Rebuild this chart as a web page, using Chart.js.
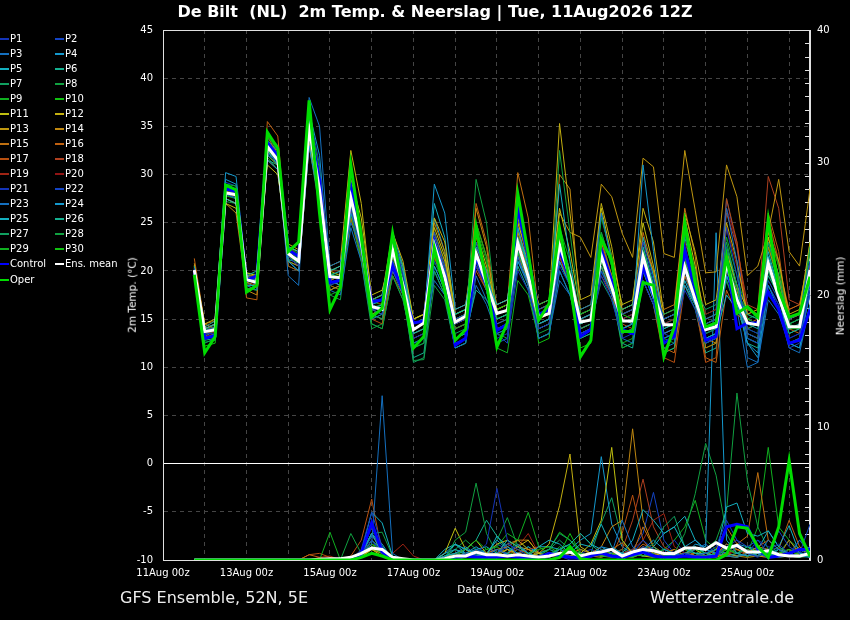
<!DOCTYPE html>
<html lang="nl">
<head>
<meta charset="UTF-8">
<title>De Bilt (NL) 2m Temp. &amp; Neerslag</title>
<script src="https://cdn.jsdelivr.net/npm/chart.js"></script>
<style>
  body { margin: 0; background: #000; font-family: 'DejaVu Sans', sans-serif; color: #fff; }
  #wrap { position: relative; width: 850px; height: 620px; overflow: hidden; }
  #chart { position: absolute; left: 0; top: 0; }
  .txt { position: absolute; white-space: pre; line-height: 1; }
  #title { left: 0; width: 870px; top: 4px; text-align: center; font-weight: bold; font-size: 16px; }
  .rot { transform: translate(-50%, -50%) rotate(-90deg); font-size: 10.5px; }
  #xtitle { left: 486px; top: 589px; transform: translate(-50%, -50%); font-size: 10.5px; }
  .foot { top: 590px; font-size: 16px; color: #eee; }
  .leg { position: absolute; font-size: 10px; line-height: 1; white-space: pre; }
  .leg i { position: absolute; left: -10px; top: 4px; width: 9px; height: 2px; }
</style>
</head>
<body>
<div id="wrap">
  <canvas id="chart" width="850" height="620"></canvas>
  <div class="txt" id="title">De Bilt  (NL)  2m Temp. &amp; Neerslag | Tue, 11Aug2026 12Z</div>
  <div class="txt rot" style="left:132px; top:295px;">2m Temp. (°C)</div>
  <div class="txt rot" style="left:840px; top:296px;">Neerslag (mm)</div>
  <div class="txt" id="xtitle">Date (UTC)</div>
  <div class="txt foot" style="left:120px;">GFS Ensemble, 52N, 5E</div>
  <div class="txt foot" style="left:650px;">Wetterzentrale.de</div>
  <div id="legend"></div>
</div>

<script>
// time axis: 6-hourly steps from 11Aug 18z, axis in hours since 11Aug 00z
const startHour = 18;
const stepHours = 6;
const dateLabels = ['11Aug 00z', '13Aug 00z', '15Aug 00z', '17Aug 00z', '19Aug 00z', '21Aug 00z', '23Aug 00z', '25Aug 00z'];

const memberColors = ['#1434b8', '#1444c4', '#1470c0', '#1498cc', '#14b0c0', '#14b090', '#10a060', '#10a040', '#10b020', '#10c010',
                      '#c0c010', '#c4b010', '#c09810', '#c08810', '#c07010', '#c06010', '#b85010', '#b04020', '#a02414', '#901414'];

// 2m temperature per member (P1..P30)
const memberTemp = [
  [20.0, 13.5,14.0,28.5,28.0, 19.0,19.5,33.5,32.0, 22.0,21.0,35.5,30.0, 18.5,19.0,29.0,24.0, 16.5,16.0,24.0,19.5, 13.0,13.5,21.0,19.0, 14.5,15.0,20.5,18.5, 12.5,13.0,20.0,18.0, 14.0,14.5,20.5,18.5, 13.5,14.0,19.5,17.0, 13.0,13.5,19.0,16.5, 13.5,13.0,18.0,16.0, 12.5,13.0,21.0,17.5, 14.0,13.5,17.5,16.0, 13.0,13.5,18.0],
  [20.3, 13.8,14.2,28.0,27.5, 19.2,19.0,33.0,31.0, 21.5,20.5,34.0,29.0, 19.5,19.0,26.5,22.0, 16.0,15.5,21.0,18.0, 14.5,15.0,24.0,20.5, 15.0,15.5,23.0,19.5, 14.0,14.5,26.0,21.0, 16.0,16.5,22.0,19.0, 13.5,14.0,20.0,17.5, 15.5,16.0,23.0,19.0, 15.0,15.5,22.0,18.0, 14.5,15.0,24.5,19.5, 13.5,13.0,19.0,17.0, 15.0,15.5,21.0],
  [20.0, 13.2,13.0,29.0,28.5, 18.5,18.0,32.0,31.5, 19.5,18.5,38.0,35.0, 20.5,21.0,25.0,22.5, 15.0,15.5,20.0,17.5, 12.5,13.0,19.0,17.5, 12.0,12.5,19.5,17.0, 14.5,15.0,21.5,18.5, 13.0,13.5,20.0,17.5, 16.0,16.5,26.0,21.0, 13.0,12.5,19.0,16.5, 12.0,12.5,21.5,18.0, 15.0,15.5,26.5,21.0, 11.0,10.5,17.0,15.5, 12.5,13.0,17.5],
  [20.2, 14.0,14.5,30.2,29.8, 19.5,19.0,31.5,30.5, 21.0,20.0,33.0,27.0, 19.0,18.5,26.0,23.0, 16.5,17.0,23.5,20.0, 14.0,14.5,29.0,26.0, 16.0,16.5,22.5,20.0, 15.5,16.0,21.0,19.0, 14.5,15.0,21.0,18.5, 15.0,15.5,21.5,19.0, 14.0,14.5,31.0,22.0, 13.5,14.0,18.5,16.5, 13.0,13.5,19.5,17.0, 12.5,11.0,18.5,16.0, 12.5,12.0,16.5],
  [19.8, 13.0,13.5,27.5,27.0, 18.5,18.5,32.5,31.0, 22.5,22.0,35.0,29.5, 20.0,20.5,28.5,23.5, 16.0,16.5,22.5,19.0, 13.5,14.0,20.5,18.0, 15.5,16.0,22.0,19.0, 16.5,17.0,24.5,20.5, 15.5,16.0,29.0,21.0, 14.5,15.0,22.0,18.5, 15.0,14.5,20.0,17.0, 14.0,14.5,19.0,16.5, 13.0,13.5,17.5,16.0, 14.5,14.0,22.0,18.0, 14.0,14.5,21.0],
  [20.5, 14.2,14.8,28.5,28.5, 19.5,20.0,33.0,32.0, 22.0,21.5,35.5,28.0, 19.5,20.0,27.0,22.0, 17.0,17.5,23.0,20.5, 14.5,15.0,23.5,20.0, 13.0,13.5,18.0,17.0, 15.0,15.5,23.5,20.5, 14.0,14.5,23.0,19.5, 13.5,14.0,20.5,17.5, 16.0,16.5,22.5,18.5, 15.0,15.5,23.5,19.0, 14.0,14.5,20.0,17.5, 15.5,15.0,19.5,17.5, 13.5,14.0,19.0],
  [19.6, 12.5,13.0,28.0,27.5, 18.0,18.5,32.0,31.0, 21.0,21.5,34.0,27.5, 18.5,19.0,27.5,22.5, 15.5,15.0,21.0,18.0, 10.5,11.0,20.0,17.5, 13.5,14.0,21.5,18.0, 15.0,15.5,22.0,19.0, 16.5,17.0,24.0,20.0, 14.0,14.5,19.0,17.0, 13.5,14.0,20.5,17.0, 15.5,16.0,21.5,18.0, 16.0,16.5,23.0,18.5, 13.5,13.0,23.0,19.5, 14.5,15.0,22.5],
  [20.0, 13.6,14.0,28.2,28.0, 19.0,19.0,33.2,31.8, 22.2,21.2,34.5,28.5, 19.2,19.5,27.8,23.2, 16.2,16.5,23.5,19.5, 13.5,14.0,23.0,20.0, 14.0,14.5,29.5,25.0, 15.0,15.5,23.0,19.5, 14.5,15.0,32.5,24.0, 15.5,16.0,24.0,20.5, 14.0,14.5,22.0,18.0, 13.0,12.5,21.0,17.5, 13.5,14.0,19.0,16.0, 14.0,14.5,20.0,17.0, 14.5,15.0,20.0],
  [20.2, 13.0,13.2,29.0,28.8, 18.2,18.0,34.0,32.5, 21.5,20.8,36.0,30.5, 17.5,18.0,26.0,21.5, 14.5,14.0,19.5,17.0, 12.0,12.5,22.0,19.0, 15.0,15.5,25.0,21.5, 12.0,11.5,19.0,17.5, 13.0,13.5,21.0,18.5, 14.5,15.0,25.5,21.5, 12.5,13.0,20.5,18.0, 12.5,13.0,24.0,20.0, 13.0,13.5,21.5,17.5, 16.0,15.5,24.5,20.5, 14.0,14.5,22.0],
  [19.9, 13.9,14.1,27.8,27.5, 19.3,18.8,32.6,31.2, 21.8,21.1,34.2,28.0, 19.6,19.4,27.0,22.6, 16.4,16.2,21.5,18.5, 14.5,15.0,21.0,18.5, 15.5,16.0,21.0,18.5, 16.0,16.5,22.0,19.5, 15.5,16.0,22.0,19.0, 15.5,16.0,21.0,18.0, 15.5,15.0,21.5,18.5, 14.0,14.5,22.5,18.5, 14.5,15.0,21.5,17.5, 15.0,14.5,20.5,17.0, 14.0,14.0,20.0],
  [20.4, 14.5,15.0,27.0,26.5, 19.8,19.5,31.0,30.0, 22.5,22.0,33.5,27.5, 20.0,20.5,29.5,25.5, 17.5,18.0,22.0,20.0, 15.0,15.5,24.5,21.5, 16.0,16.5,24.0,20.5, 16.0,16.5,25.0,21.5, 16.5,17.0,26.5,22.0, 16.0,16.5,26.5,21.5, 16.5,17.0,25.0,20.5, 15.0,15.5,25.5,20.5, 14.5,15.0,22.0,18.5, 16.0,15.5,23.5,19.5, 15.0,15.5,22.5],
  [20.6, 14.0,14.5,27.5,27.0, 18.8,19.2,32.0,31.0, 22.8,22.2,34.0,30.0, 20.5,21.0,32.5,27.0, 17.0,17.5,24.0,21.0, 15.0,15.5,25.5,23.0, 15.5,16.0,23.0,20.0, 15.5,16.0,25.5,22.0, 16.0,16.5,35.3,26.0, 17.0,17.5,27.0,22.5, 16.0,16.5,26.5,23.0, 15.5,16.0,26.0,22.0, 16.5,17.0,25.0,21.0, 15.5,16.0,24.0,21.0, 15.5,16.0,23.0],
  [20.5, 14.0,14.5,28.0,27.5, 19.5,19.5,33.0,32.5, 22.5,22.0,34.0,28.5, 20.0,19.5,28.0,24.0, 17.0,17.5,23.0,20.5, 15.0,15.5,24.0,21.0, 15.5,16.0,25.0,21.5, 16.5,17.0,24.0,21.0, 16.5,17.0,26.0,24.0, 23.5,21.4,29.0,27.7, 23.9,21.4,31.7,30.8, 21.8,21.4,32.5,26.3, 19.8,19.9,31.0,27.7, 19.5,20.5,24.0,29.5, 22.0,20.5,28.5],
  [20.8, 14.5,14.0,27.0,26.0, 18.0,17.5,32.5,31.5, 21.0,20.5,33.5,27.0, 18.0,18.5,27.5,23.0, 15.5,16.0,22.5,19.0, 14.0,14.5,25.0,22.0, 14.5,15.0,26.5,22.5, 15.0,15.5,22.0,18.5, 14.5,15.0,30.0,28.5, 15.5,16.0,22.5,19.5, 16.0,16.5,23.0,20.0, 15.0,15.5,21.0,18.5, 13.0,12.5,20.5,18.0, 13.5,13.0,22.5,19.0, 15.0,15.5,21.0],
  [20.1, 13.8,14.2,28.2,27.8, 18.8,18.5,34.0,32.0, 21.5,21.0,35.0,29.0, 19.0,19.5,28.0,23.5, 16.0,15.5,22.0,18.5, 14.0,14.5,23.5,20.5, 15.0,15.5,23.5,20.0, 16.0,16.5,30.2,25.5, 15.5,16.0,21.0,18.5, 14.0,14.5,23.0,19.5, 15.5,16.0,24.0,20.0, 16.0,16.5,26.5,21.5, 12.0,12.5,20.0,17.0, 14.0,14.5,23.5,19.5, 16.0,16.5,22.0],
  [21.3, 14.5,14.8,28.5,28.0, 17.2,17.0,35.5,34.0, 21.5,21.0,33.5,27.5, 19.0,18.5,25.5,21.5, 15.5,15.0,20.0,18.0, 13.5,14.0,21.5,18.5, 14.0,14.5,27.0,23.0, 16.0,16.5,23.5,20.0, 14.0,14.5,22.0,19.0, 14.5,15.0,20.5,17.5, 15.0,14.5,21.0,17.5, 12.0,11.5,19.5,17.0, 11.0,10.5,18.0,15.5, 14.5,15.0,26.0,22.0, 14.0,13.5,20.5],
  [20.3, 14.2,14.0,27.5,27.0, 18.5,18.0,31.5,30.5, 20.5,20.0,33.0,27.0, 18.5,18.0,26.5,22.0, 15.0,14.5,19.5,17.5, 13.0,13.5,22.0,19.5, 14.5,15.0,20.0,18.0, 14.5,15.0,25.0,21.0, 15.0,15.5,21.5,18.5, 15.0,15.5,19.5,17.5, 14.5,14.0,19.0,16.5, 11.0,10.5,18.5,16.5, 10.5,11.0,27.5,23.0, 15.0,14.5,25.5,21.0, 15.0,15.5,22.5],
  [19.9, 13.5,13.8,28.0,27.8, 19.0,18.8,32.8,31.0, 21.5,20.5,34.0,28.0, 19.5,19.0,26.5,22.0, 16.5,16.0,21.5,18.5, 13.5,14.0,22.5,19.0, 14.0,14.5,21.0,18.5, 16.5,17.0,22.5,19.5, 15.5,16.0,23.5,20.0, 15.5,16.0,23.0,19.5, 14.0,14.5,20.0,17.5, 14.0,14.5,22.0,19.0, 15.0,15.5,26.0,22.5, 16.5,16.0,29.8,26.5, 17.0,16.5,22.0],
  [20.0, 13.8,13.6,28.3,28.0, 19.4,19.2,32.0,31.0, 22.0,21.5,34.5,27.5, 20.0,20.0,26.0,22.5, 17.0,16.5,21.0,18.5, 14.0,14.5,22.0,19.0, 15.0,15.5,20.5,18.0, 15.5,16.0,21.5,19.0, 15.0,15.5,21.5,18.5, 15.5,16.0,20.5,18.0, 15.0,15.5,20.5,18.0, 14.5,15.0,21.5,18.5, 14.0,14.5,24.5,20.5, 16.0,15.5,24.0,20.5, 16.0,16.5,20.5],
  [20.2, 13.2,13.5,28.5,28.2, 18.5,19.0,33.0,32.0, 22.5,21.5,34.5,28.5, 18.5,19.0,27.0,23.0, 16.0,16.5,22.0,19.0, 14.0,14.5,21.5,18.5, 15.5,16.0,22.5,19.5, 14.0,14.5,24.0,21.0, 16.0,16.5,23.0,19.5, 14.5,15.0,22.5,19.0, 13.5,14.0,21.0,18.0, 13.5,14.0,23.0,19.5, 15.5,16.0,26.5,23.0, 15.5,16.0,25.5,21.0, 15.0,15.5,21.0],
  [20.0, 13.4,13.6,28.8,28.5, 19.6,19.2,33.8,32.5, 22.2,21.5,35.2,29.0, 19.0,18.5,27.0,22.0, 16.0,16.0,21.5,18.0, 13.0,13.5,21.5,18.5, 14.0,14.5,20.5,18.0, 13.0,13.5,21.5,18.5, 14.0,14.5,21.0,18.5, 14.5,15.0,22.0,18.5, 14.0,14.5,21.5,17.5, 13.5,14.0,20.0,17.0, 13.5,14.0,21.5,17.5, 13.0,12.5,18.5,16.5, 13.0,13.5,17.5],
  [20.1, 13.6,13.4,29.2,28.8, 19.2,18.5,34.0,33.0, 22.0,21.0,36.5,31.0, 19.0,18.5,26.5,22.0, 16.0,15.5,22.0,18.5, 12.5,13.0,20.5,18.0, 13.0,13.5,21.0,18.0, 13.5,12.5,22.5,19.0, 14.5,15.0,22.5,19.0, 14.0,14.5,22.0,18.5, 15.0,15.5,21.0,18.0, 14.5,15.0,20.0,17.5, 14.0,14.5,27.5,22.5, 14.0,14.5,18.5,16.5, 12.0,12.5,18.5],
  [19.8, 13.0,13.2,28.0,27.5, 18.8,19.0,32.2,31.5, 21.2,20.8,35.5,29.5, 18.0,17.5,24.5,21.0, 14.5,14.0,19.5,17.0, 12.0,12.5,23.5,20.0, 12.5,13.0,18.5,16.5, 13.5,14.0,22.0,18.5, 13.0,13.5,19.0,17.5, 14.0,14.5,21.0,18.0, 13.5,14.0,20.5,17.5, 13.0,13.5,19.5,16.5, 14.5,15.0,19.0,16.0, 10.0,10.5,18.0,16.0, 12.0,11.5,16.5],
  [20.0, 13.5,14.0,29.5,29.0, 19.0,19.5,33.5,32.5, 21.0,20.0,36.5,32.0, 19.5,20.0,26.5,22.5, 16.5,17.0,24.0,20.5, 14.0,14.5,25.5,22.0, 14.5,15.0,22.0,19.0, 14.0,14.5,21.0,18.5, 14.5,15.0,21.5,19.0, 15.0,15.5,26.0,21.0, 15.0,15.5,23.5,19.5, 13.5,14.0,24.0,19.5, 12.5,13.0,21.0,17.5, 12.5,11.5,20.0,17.5, 12.5,12.0,18.0],
  [20.1, 13.2,13.8,28.5,28.2, 18.8,18.2,32.5,31.5, 22.0,21.5,34.5,28.0, 19.0,19.5,28.0,23.5, 15.5,16.0,23.0,19.5, 14.5,15.0,27.0,23.5, 15.0,15.5,22.5,19.5, 15.0,15.5,24.5,20.0, 14.5,15.0,23.0,19.5, 13.5,14.0,20.0,17.5, 14.0,14.5,21.5,18.0, 13.0,13.5,19.5,17.0, 13.5,14.0,19.5,17.0, 13.0,12.5,21.5,18.0, 13.5,14.0,19.5],
  [19.7, 12.8,13.0,27.5,27.0, 18.0,18.5,31.5,31.0, 21.0,20.5,33.5,27.0, 18.0,18.5,26.0,21.5, 15.5,15.0,21.0,18.0, 11.0,11.5,20.0,17.5, 12.0,12.5,20.5,18.0, 13.5,14.0,20.5,18.0, 13.0,13.5,20.0,17.5, 13.0,13.5,20.5,17.5, 12.5,12.0,19.0,16.5, 11.5,12.0,18.5,16.0, 11.5,12.0,19.5,16.5, 12.5,12.0,21.0,17.5, 12.5,13.0,19.0],
  [20.0, 13.9,14.4,28.0,27.6, 19.8,19.6,32.8,31.6, 22.4,21.6,34.6,28.6, 20.2,20.0,28.6,24.0, 17.0,17.0,23.0,20.0, 15.0,15.5,23.0,20.0, 15.5,16.0,22.0,19.0, 16.5,17.0,24.0,20.5, 14.5,15.0,22.0,19.0, 15.0,15.5,23.5,19.5, 15.5,16.0,22.0,18.5, 15.0,15.5,21.0,18.0, 15.5,16.0,22.5,18.5, 15.0,15.5,23.0,19.0, 15.0,15.5,20.5],
  [19.6, 12.6,12.8,27.2,27.0, 18.2,18.0,31.8,30.5, 20.5,20.0,33.0,26.5, 17.5,17.0,25.5,21.0, 14.0,14.5,21.0,17.5, 10.7,10.8,18.5,17.0, 12.0,12.5,21.0,18.5, 13.5,13.0,21.5,18.5, 13.5,14.0,22.0,18.5, 13.0,13.5,21.5,18.0, 12.0,12.5,20.0,17.0, 12.5,13.0,21.0,17.5, 12.5,13.0,22.0,18.0, 14.0,13.5,23.0,19.0, 14.5,14.0,20.5],
  [20.3, 13.4,13.8,28.7,28.4, 19.4,19.0,33.6,32.2, 22.4,21.8,35.6,29.0, 19.8,19.6,29.0,24.5, 16.8,16.5,24.0,20.5, 14.5,15.0,24.0,21.0, 15.0,15.5,24.5,21.0, 16.0,16.5,25.5,21.5, 16.0,16.5,24.5,21.0, 15.0,15.5,24.0,20.5, 15.5,16.0,23.5,19.5, 14.5,15.0,24.5,20.0, 15.0,15.5,23.5,19.5, 15.5,15.0,24.5,20.5, 14.5,15.0,23.0],
  [19.8, 12.2,12.5,28.4,28.0, 18.6,18.4,34.2,33.0, 21.6,21.0,36.8,29.5, 18.5,18.0,28.5,23.0, 15.0,15.5,23.5,19.5, 12.5,13.0,21.5,18.5, 13.0,13.5,23.0,19.5, 12.5,13.0,24.0,20.0, 12.5,13.0,23.5,20.0, 12.0,12.5,22.5,19.0, 12.0,12.5,22.5,18.5, 11.5,12.0,22.0,18.0, 12.0,12.5,22.5,18.5, 13.0,12.5,22.5,18.5, 12.5,13.0,21.0]
];

// 6-hourly precipitation per member (P1..P30), mm
const memberRain = [
  [0, 0,0,0,0, 0,0,0,0, 0,0,0,0, 0,0,0,0.4, 1.5,0.5,0,0, 0,0,0,0.2, 0,0.3,0.5,1.2, 5.4,1.5,0.3,0, 0.2,0.5,0.3,0, 0,0.2,0.8,0.3, 0,0.5,1.0,0.4, 0,0.3,0.5,0.2, 0,0.3,1.0,1.5, 0.5,0.2,0.8,1.2, 0.5,0.3,0.8],
  [0, 0,0,0,0, 0,0,0,0, 0,0,0,0, 0,0,0,0.8, 3.6,1.0,0,0, 0,0,0,0, 0.2,0.5,0.3,0, 0.5,1.2,0.8,0.3, 0,0.2,0.5,0.3, 0,0.4,0.5,0.2, 0.3,0.5,1.5,0.8, 0.2,0,0.5,0.3, 0.5,1.0,3.0,1.5, 1.0,1.5,0.5,2.2, 1.0,0.5,2.7],
  [0, 0,0,0,0, 0,0,0,0, 0,0,0,0, 0,0,0,0.3, 1.2,12.4,0.5,0, 0,0,0,0, 0,0.2,0.5,0.3, 0.8,0.4,0.2,0, 0.3,0.2,0.8,0.5, 0.2,0.3,1.0,0.5, 3.0,1.0,0.5,0.3, 0.2,0.4,0.3,0.8, 1.2,0.5,0.3,0.2, 0.5,0.3,1.5,0.8, 0.3,1.5,0.5],
  [0, 0,0,0,0, 0,0,0,0, 0,0,0,0, 0,0,0,0.5, 2.0,0.5,0,0, 0,0,0,0.3, 0.5,1.0,0.4,0.2, 0.3,0.5,1.2,0.5, 0.2,0.5,0.3,0.2, 0.4,0.3,1.0,0.8, 0.5,0.3,0.8,1.5, 0.8,0.5,0.3,1.2, 1.0,24.7,1.5,0.5, 0.3,0.5,0.2,0.8, 0.5,0.3,0.2],
  [0, 0,0,0,0, 0,0,0,0, 0,0,0,0, 0,0,0,0.6, 3.6,2.8,0.3,0, 0,0,0,0.5, 1.2,0.8,0.5,0.3, 1.8,1.0,0.5,0.3, 1.0,1.5,1.2,0.5, 1.2,1.0,2.7,1.0, 0.5,1.5,3.8,3.0, 2.0,2.5,1.0,0.5, 0.5,0.3,4.0,4.3, 2.0,1.8,2.2,1.0, 2.6,0.5,0.5],
  [0, 0,0,0,0, 0,0,0,0, 0,0,0,0, 0,0,0,0.4, 2.0,1.0,0.2,0, 0,0,0,0.2, 0.8,0.4,0.3,0.2, 0.5,1.5,1.0,0.5, 0.2,0.4,0.8,1.2, 2.0,1.2,0.5,0.3, 0.5,0.3,0.5,1.0, 0.4,0.3,0.5,1.0, 0.5,0.8,0.3,0.5, 1.0,0.5,0.3,0.2, 0.3,0.2,0.5],
  [0, 0,0,0,0, 0,0,0,0, 0,0,0,0, 0,0,0,0.2, 1.5,0.8,0,0, 0,0,0,0, 0.5,0.8,0.5,0.3, 0.3,0.5,0.2,0, 0.3,0.8,1.5,0.8, 0.5,0.3,0.5,0.8, 0.3,0.5,0.8,1.2, 2.5,3.3,1.0,0.5, 0.3,0.5,1.0,0.5, 0.8,0.3,0.5,1.0, 0.5,0.3,0.3],
  [0, 0,0,0,0, 0,0,0,0, 0,0,0,0, 0,0,2.0,0.5, 2.0,2.1,0.3,0, 0,0,0,0, 1.5,2.1,5.8,2.0, 0.5,0.3,0.2,0, 0.2,0.3,0.5,0.2, 0.3,0.5,0.3,0.4, 0.2,0.5,0.3,0.5, 0.8,0.5,2.0,5.0, 8.8,6.4,2.0,0.5, 0.3,0.8,0.5,0.3, 0.5,0.2,0.3],
  [0, 0,0,0,0, 0,0,0,0, 0,0,0,0, 2.1,0,0,0.3, 1.0,0.5,0,0, 0,0,0,0.3, 0.5,0.8,1.5,0.8, 1.0,2.0,1.5,3.6, 1.0,0.5,0.8,0.5, 0.3,0.5,0.3,0.2, 0.5,0.3,0.5,0.2, 0.3,0.5,0.8,0.5, 0.3,0.5,0.8,0.5, 0.3,0.5,0.3,0.8, 0.3,0.5,0.2],
  [0, 0,0,0,0, 0,0,0,0, 0,0,0,0, 0,0,0,0.3, 1.2,0.8,0.1,0, 0,0,0,0, 0.3,0.5,0.3,0.2, 0.5,0.3,0.2,0.5, 0.8,1.0,0.5,2.0, 0.5,0.3,0.8,0.5, 0.3,0.2,0.5,0.3, 0.2,0.5,0.3,0.8, 0.5,0.3,0.8,0.5, 1.0,0.5,0.3,0.5, 0.8,0.3,0.5],
  [0, 0,0,0,0, 0,0,0,0, 0,0,0,0, 0,0,0,0.2, 0.8,0.3,0,0, 0,0,0,0.5, 2.4,0.8,1.5,0.5, 0.3,0.8,0.5,0.3, 0.5,0.3,0.5,0.3, 0.5,1.2,3.0,8.5, 1.5,0.5,0.3,0.2, 0.5,0.3,0.5,0.8, 0.3,0.5,0.3,0.2, 0.5,0.8,0.5,0.3, 0.5,0.3,0.5],
  [0, 0,0,0,0, 0,0,0,0, 0,0,0,0, 0,0,0,0.3, 0.8,0.5,0,0, 0,0,0,0.2, 0.5,0.8,0.3,0.5, 1.2,1.5,1.0,1.5, 0.5,1.2,4.1,8.0, 1.0,0.5,0.3,0.5, 0.3,0.5,1.0,0.5, 0.3,0.2,0.5,0.3, 0.2,0.5,0.8,0.5, 0.3,0.5,0.2,0.5, 0.3,0.5,0.2],
  [0, 0,0,0,0, 0,0,0,0, 0,0,0,0, 0,0,0,0.2, 0.5,0.3,0,0, 0,0,0,0, 0.2,0.3,0.5,0.2, 0.3,0.5,1.0,0.8, 0.3,0.2,0.5,0.3, 0.2,0.3,0.2,0.5, 0.3,0.2,0.5,0.3, 0.2,0.3,0.5,0.2, 0.3,0.2,0.5,0.3, 0.2,0.3,0.2,0.5, 0.3,0.2,0.5],
  [0, 0,0,0,0, 0,0,0,0, 0,0,0,0, 0,0,0,0.4, 1.5,0.8,0,0, 0,0,0,0.3, 0.5,0.8,0.5,0.3, 0.5,1.2,1.5,0.8, 0.5,0.3,0.8,0.5, 0.8,0.5,1.0,2.5, 3.0,9.9,3.0,1.0, 0.5,0.8,0.3,0.5, 0.3,0.5,1.0,0.8, 0.5,1.0,0.8,0.3, 1.5,0.5,0.3],
  [0, 0,0,0,0, 0,0,0,0, 0,0,0,0, 0,0,0,0.5, 2.0,0.5,0,0, 0,0,0,0, 0.3,0.5,0.3,0.5, 0.8,1.0,1.5,1.5, 0.5,0.3,0.5,0.5, 0.3,0.5,0.3,0.8, 1.3,0.5,2.5,1.0, 0.5,0.8,0.3,0.5, 0.3,0.8,2.5,1.2, 1.8,6.6,1.5,0.8, 0.5,1.0,0.3],
  [0, 0,0,0,0, 0,0,0,0, 0,0,0.4,0.2, 0,0,0,0.3, 1.0,0.5,0,0, 0,0,0,0, 0.2,0.5,0.3,0.2, 0.5,0.8,0.3,0.5, 0.3,0.5,0.2,0.3, 0.5,0.3,0.8,0.5, 0.3,0.5,1.2,0.8, 0.5,0.3,0.5,0.8, 0.3,0.5,1.2,0.8, 0.5,1.0,1.5,0.8, 3.0,1.0,0.5],
  [0, 0,0,0,0, 0,0,0,0, 0,0,0.4,0.5, 0.2,0,0.3,1.5, 4.6,0.5,0,0, 0,0,0,0, 0.2,0.3,0.5,0.2, 0.3,0.5,0.8,0.5, 0.3,0.5,0.3,0.8, 0.5,0.3,0.5,0.3, 2.0,4.9,1.5,0.5, 0.3,0.5,0.8,0.3, 0.5,0.3,0.5,0.8, 0.3,0.5,0.3,0.5, 0.8,0.3,0.5],
  [0, 0,0,0,0, 0,0,0,0, 0,0,0,0, 0,0,0,0.4, 1.2,0.8,0,0, 0,0,0,0, 0.3,0.2,0.5,0.3, 0.5,0.3,0.5,0.8, 1.0,0.5,0.3,0.5, 0.3,0.5,0.3,0.5, 0.8,3.0,6.1,2.5, 1.0,0.5,0.3,0.5, 0.3,0.5,0.3,0.5, 0.8,0.5,0.3,0.5, 0.3,0.5,0.3],
  [0, 0,0,0,0, 0,0,0,0, 0,0,0,0.2, 0.3,0,0,0.3, 0.8,0.3,0.5,1.2, 0.3,0,0,0, 0.2,0.3,0.2,0.5, 0.3,0.5,1.0,2.0, 0.5,0.3,0.2,0.5, 0.3,0.2,0.5,0.3, 0.5,0.8,1.5,3.0, 3.5,1.0,0.5,0.3, 0.2,0.5,0.3,0.8, 0.5,0.3,0.5,0.2, 0.3,0.5,0.2],
  [0, 0,0,0,0, 0,0,0,0, 0,0,0,0, 0,0,0,0.2, 0.5,0.3,0,0, 0,0,0,0, 0.2,0.3,0.2,0.2, 0.3,0.2,0.5,0.3, 0.2,0.3,0.5,0.3, 0.2,0.5,0.3,0.2, 0.3,0.5,0.8,0.5, 0.3,0.2,0.5,0.3, 0.2,0.3,0.5,0.8, 0.5,0.3,0.2,0.5, 0.3,0.2,0.3],
  [0, 0,0,0,0, 0,0,0,0, 0,0,0,0, 0,0,0,0.5, 2.5,0.8,0,0, 0,0,0,0.2, 0.3,0.5,0.5,0.3, 1.2,0.8,0.5,0.3, 0.5,0.3,0.5,0.3, 0.5,0.8,0.5,0.3, 0.5,0.3,1.0,0.8, 0.5,1.5,0.5,0.3, 0.5,0.3,0.8,1.0, 0.5,1.5,1.0,0.8, 0.5,1.5,0.8],
  [0, 0,0,0,0, 0,0,0,0, 0,0,0,0, 0,0,0,0.3, 1.5,0.5,0,0, 0,0,0,0, 0.2,0.5,0.3,0.5, 0.8,0.5,0.3,0.2, 0.5,0.3,0.2,0.5, 0.3,0.5,0.3,0.5, 0.3,0.8,2.0,5.1, 1.5,0.5,0.3,0.2, 0.5,0.3,0.5,0.8, 0.5,0.3,0.8,0.5, 0.3,0.5,1.0],
  [0, 0,0,0,0, 0,0,0,0, 0,0,0,0, 0,0,0,0.4, 1.8,1.0,0,0, 0,0,0,0.3, 0.5,0.3,0.8,0.5, 0.5,1.0,0.5,0.3, 0.3,0.5,0.3,0.2, 0.5,0.3,0.5,0.3, 0.5,0.8,0.5,0.3, 0.5,0.3,0.8,0.5, 0.3,0.8,0.5,0.3, 0.5,0.8,0.5,0.3, 0.5,0.3,0.8],
  [0, 0,0,0,0, 0,0,0,0, 0,0,0,0, 0,0,0,0.3, 1.5,0.5,0,0, 0,0,0,0.5, 0.8,0.5,1.0,0.5, 1.5,0.8,0.5,1.0, 0.5,0.3,0.5,0.8, 1.5,2.0,7.8,2.7, 1.0,0.5,0.8,0.5, 0.3,0.5,1.0,1.5, 0.8,0.5,1.2,0.8, 0.5,0.3,0.5,0.8, 0.3,0.5,0.3],
  [0, 0,0,0,0, 0,0,0,0, 0,0,0,0, 0,0,0,0.5, 2.0,1.2,0,0, 0,0,0,0.8, 1.2,0.5,0.8,1.0, 0.5,1.5,1.0,0.5, 1.0,1.0,0.8,1.2, 2.0,1.2,0.8,0.5, 0.5,0.8,0.5,1.0, 2.0,2.5,3.3,1.5, 0.8,0.5,0.8,1.2, 1.0,0.8,2.2,1.0, 0.5,0.8,0.5],
  [0, 0,0,0,0, 0,0,0,0, 0,0,0,0, 0,0,0,0.3, 1.0,0.8,0,0, 0,0,0,0.2, 1.2,0.8,1.5,3.0, 1.8,0.8,0.5,0.3, 0.5,0.8,0.5,0.3, 0.5,0.3,1.0,0.5, 0.3,0.5,0.3,0.8, 0.5,0.3,0.8,1.0, 0.5,0.8,0.5,0.3, 0.5,0.3,0.8,0.5, 0.3,0.5,0.2],
  [0, 0,0,0,0, 0,0,0,0, 0,0,0,0, 0,0,0,0.2, 0.8,0.5,0,0, 0,0,0,0, 0.3,0.8,0.5,0.3, 0.5,0.8,0.5,1.0, 0.5,0.8,2.0,1.5, 0.8,0.5,2.8,4.7, 1.5,0.5,0.3,0.8, 0.5,0.3,0.5,0.3, 0.5,0.8,0.5,0.3, 0.5,0.3,0.8,0.5, 1.5,0.5,0.3],
  [0, 0,0,0,0, 0,0,0,0, 0,0,0,0, 0,0,0,0.3, 1.0,0.5,0,0, 0,0,0,0.3, 0.8,1.5,0.8,0.5, 1.5,3.2,1.0,0.5, 0.3,0.5,0.8,0.5, 0.3,0.5,0.3,0.5, 0.8,0.5,0.3,0.5, 0.8,0.5,0.3,0.5, 0.8,1.5,3.7,12.6, 6.0,2.5,0.8,0.5, 0.8,0.5,0.3],
  [0, 0,0,0,0, 0,0,0,0, 0,0,0,0, 0,0,0,0.3, 1.5,0.5,0,0, 0,0,0,0.2, 0.5,0.3,0.5,0.8, 1.0,0.5,1.5,0.8, 0.5,0.3,1.0,0.5, 0.5,0.3,0.5,0.8, 0.5,0.8,0.5,0.3, 0.8,1.5,2.5,4.5, 1.5,0.8,0.5,0.8, 0.5,2.5,8.5,2.5, 1.5,0.8,0.5],
  [0, 0,0,0,0, 0,0,0,0, 0,0,0,0, 0,0,0,0.5, 1.2,0.5,0,0, 0,0,0,0, 0.3,0.8,0.5,0.3, 0.5,0.3,0.8,0.5, 0.3,0.8,2.1,1.5, 0.5,0.3,0.5,0.8, 0.5,0.3,0.5,0.8, 0.3,0.5,0.8,0.5, 0.3,0.5,0.8,0.5, 0.3,0.5,0.8,0.5, 0.8,0.3,0.5]
];

const controlTemp = [20.0, 13.0,13.3,28.5,28.3, 19.0,19.5,33.3,32.0, 22.2,21.5,35.0,29.4, 18.8,19.0,28.7,22.9, 16.8,17.0,20.5,18.0, 14.6,14.8,23.0,19.5, 12.3,13.0,21.5,18.5, 13.8,14.5,26.6,21.5, 15.5,16.0,22.2,19.0, 13.2,13.9,22.2,19.0, 13.9,13.5,20.4,17.5, 12.5,13.2,22.2,18.0, 12.8,13.2,21.5,14.0, 14.6,14.6,17.8,16.0, 12.5,12.8,16.0];
const controlRain = [0, 0,0,0,0, 0,0,0,0, 0,0,0,0, 0,0,0,0.5, 2.8,0.6,0.1,0, 0,0,0,0, 0.2,0.3,0.2,0.2, 0.2,0.3,0.2,0.2, 0.2,0.5,0.3,0.2, 0.2,0.3,0.5,0.3, 0.2,0.4,0.6,0.3, 0.2,0.2,0.3,0.2, 0.2,0.3,2.5,2.7, 2.5,0.8,0.2,0.3, 0.5,0.8,0.8];

const meanTemp = [20.1, 13.7,13.9,28.1,27.9, 19.1,18.8,32.9,31.5, 21.8,21.0,34.8,28.4, 19.4,19.3,27.6,22.9, 16.3,16.0,22.2,18.5, 13.9,14.6,22.7,19.4, 14.7,15.3,21.8,18.7, 15.6,15.9,22.9,19.4, 15.2,15.6,22.7,19.4, 14.7,14.9,21.6,18.3, 14.8,14.8,21.5,17.7, 14.4,14.4,20.4,17.0, 13.9,14.2,20.8,17.0, 14.6,14.4,20.8,17.3, 14.2,14.2,20.1];
const meanRain = [0, 0,0,0,0, 0,0,0,0, 0,0,0,0.05, 0.1,0.1,0.2,0.5, 0.9,0.8,0.2,0.1, 0,0,0,0.1, 0.3,0.3,0.6,0.4, 0.4,0.3,0.4,0.3, 0.2,0.3,0.5,0.6, 0.3,0.5,0.6,0.8, 0.3,0.6,0.8,0.7, 0.5,0.5,0.9,0.9, 0.8,1.3,0.9,1.1, 0.6,0.6,0.7,0.4, 0.3,0.3,0.5];

const operTemp = [19.6, 11.5,13.2,28.9,28.4, 17.8,18.5,34.4,32.7, 22.0,23.0,37.7,26.0, 16.0,18.3,31.0,23.5, 15.2,16.1,23.9,18.0, 12.0,13.2,22.4,18.0, 12.8,13.9,24.6,18.7, 12.1,14.6,28.0,21.8, 14.9,16.6,24.4,18.7, 11.1,12.8,23.3,21.1, 13.7,13.7,18.8,18.5, 11.1,14.2,25.0,18.7, 14.2,14.6,21.5,15.6, 16.3,15.2,25.3,18.0, 15.2,15.6,19.4];
const operRain = [0, 0,0,0,0, 0,0,0,0, 0,0,0,0, 0,0,0,0.2, 0.5,0.3,0,0, 0,0,0,0, 0,0,0,0, 0,0,0,0, 0,0,0.2,1.0, 0.1,0,0,0, 0,0,0,0, 0,0,0,0, 0,0,0.4,2.5, 2.4,1.0,0.2,2.5, 7.5,2.0,0.3];

Chart.defaults.font.family = "'DejaVu Sans', sans-serif";
Chart.defaults.color = '#ffffff';

function toPoints(values) {
    return values.map((v, i) => ({ x: startHour + i * stepHours, y: v }));
}

// lower "order" is painted on top
function line(label, values, color, width, axis, order) {
    return { label: label, data: toPoints(values), borderColor: color, borderWidth: width, yAxisID: axis, order: order };
}

const datasets = [];
memberTemp.forEach((vals, k) => datasets.push(line('P' + (k + 1), vals, memberColors[k % 20], 1, 'y', 3)));
memberRain.forEach((vals, k) => datasets.push(line('P' + (k + 1) + ' rr', vals, memberColors[k % 20], 1, 'y2', 3)));
datasets.push(line('Control', controlTemp, '#0000ff', 3, 'y', 2));
datasets.push(line('Control rr', controlRain, '#0000ff', 3, 'y2', 2));
datasets.push(line('Ens. mean', meanTemp, '#ffffff', 3, 'y', 1));
datasets.push(line('Ens. mean rr', meanRain, '#ffffff', 3, 'y2', 1));
datasets.push(line('Oper', operTemp, '#00dd00', 3, 'y', 0));
datasets.push(line('Oper rr', operRain, '#00dd00', 3, 'y2', 0));

// white frame round the plot area and inward minor ticks on the rain axis, under the lines
const frame = {
    id: 'frame',
    beforeDatasetsDraw(chart) {
        const { ctx, chartArea: a } = chart;
        const rr = chart.scales.y2;
        ctx.save();
        ctx.strokeStyle = '#e0e0e0';
        ctx.lineWidth = 1;
        ctx.strokeRect(Math.round(a.left) + 0.5, Math.round(a.top) + 0.5, Math.round(a.right - a.left) - 1, Math.round(a.bottom - a.top));
        ctx.beginPath();
        rr.ticks.forEach(t => {
            const y = Math.round(rr.getPixelForValue(t.value)) + 0.5;
            ctx.moveTo(a.right - 5, y);
            ctx.lineTo(a.right, y);
        });
        ctx.stroke();
        ctx.restore();
    }
};

const gridGrey = '#454545';

new Chart(document.getElementById('chart').getContext('2d'), {
    type: 'line',
    data: { datasets: datasets },
    options: {
        responsive: false,
        animation: false,
        devicePixelRatio: 1,
        layout: { padding: { top: 30, left: 0, right: 0, bottom: 0 } },
        elements: { point: { radius: 0 }, line: { tension: 0 } },
        plugins: { legend: { display: false }, tooltip: { enabled: false } },
        scales: {
            x: {
                type: 'linear',
                min: 0,
                max: 372,
                afterFit: s => { s.height = 60; },
                ticks: {
                    stepSize: 24,
                    includeBounds: false,
                    autoSkip: false,
                    maxRotation: 0,
                    padding: 7,
                    font: { size: 10 },
                    callback: v => (v % 48 === 0 ? dateLabels[v / 48] : '')
                },
                grid: { color: gridGrey, drawTicks: false },
                border: { color: '#e0e0e0', dash: [4, 4] }
            },
            y: {
                position: 'left',
                min: -10,
                max: 45,
                afterFit: s => { s.width = 163; },
                ticks: { stepSize: 5, padding: 10, font: { size: 10 } },
                grid: {
                    color: c => (c.tick && c.tick.value === 0 ? '#ffffff' : gridGrey),
                    drawTicks: false
                },
                border: { color: '#e0e0e0', dash: c => (c.tick && c.tick.value === 0 ? [] : [4, 4]) }
            },
            y2: {
                position: 'right',
                min: 0,
                max: 40,
                afterFit: s => { s.width = 40; },
                ticks: {
                    stepSize: 1,
                    autoSkip: false,
                    padding: 7,
                    font: { size: 10 },
                    callback: v => (v % 10 === 0 ? v : '')
                },
                grid: { drawOnChartArea: false, drawTicks: false },
                border: { color: '#e0e0e0' }
            }
        }
    },
    plugins: [frame]
});

// two-column legend on the left
const legend = document.getElementById('legend');
const legendItems = memberTemp.map((vals, k) => ({ name: 'P' + (k + 1), color: memberColors[k % 20] }));
legendItems.push({ name: 'Control', color: '#0000ff' }, { name: 'Ens. mean', color: '#ffffff' }, { name: 'Oper', color: '#00dd00' });
legendItems.forEach((it, k) => {
    const row = Math.floor(k / 2), col = k % 2;
    const el = document.createElement('div');
    el.className = 'leg';
    el.style.left = (col * 55 + 10) + 'px';
    el.style.top = (34 + row * 15 + (row > 15 ? 1 : 0)) + 'px';
    el.innerHTML = '<i style="background:' + it.color + '"></i>' + it.name;
    legend.appendChild(el);
});
</script>
</body>
</html>
